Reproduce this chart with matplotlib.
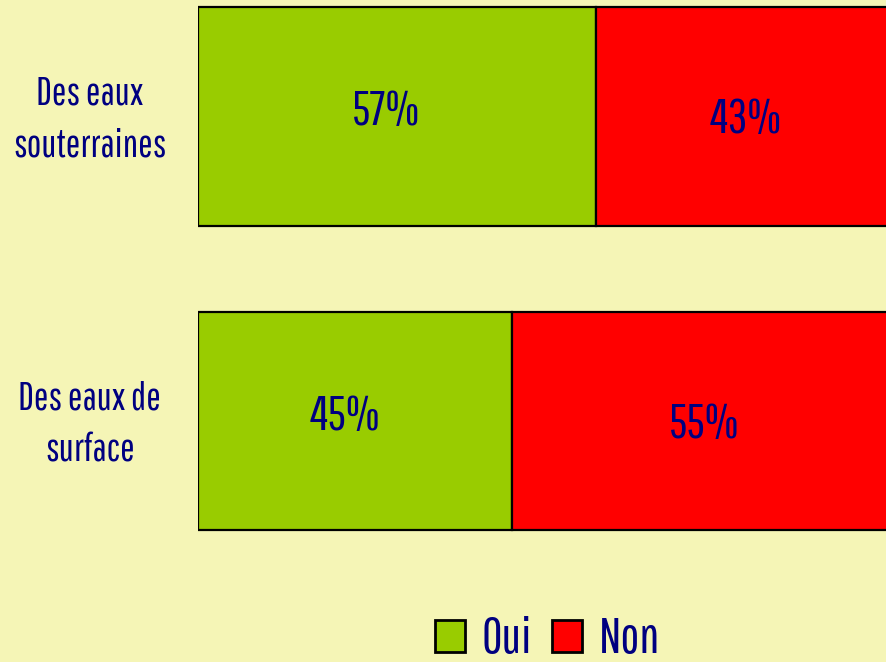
import matplotlib.pyplot as plt
from matplotlib.patches import Patch
from matplotlib import font_manager

# data
categories = ['Des eaux de\nsurface', 'Des eaux\nsouterraines']
oui = [45, 57]
non = [55, 43]

names = set(f.name for f in font_manager.fontManager.ttflist)
fam = 'DejaVu Sans'
for cand in ['Pathway Gothic One', 'Saira Condensed', 'Antonio', 'Roboto Condensed',
             'Oswald', 'Liberation Sans Narrow']:
    if cand in names:
        fam = cand
        break
plt.rcParams['font.family'] = [fam, 'DejaVu Sans']

bg = '#F5F5B6'
green = '#99CC00'
red = '#FF0000'
navy = '#000080'

fig = plt.figure(figsize=(8.86, 6.62), dpi=100, facecolor=bg)
# bars run past the right edge, like the original
ax = fig.add_axes([198/886, 0, 698/886, 1])
ax.set_facecolor(bg)

y = list(range(len(categories)))
h = 0.716
ax.barh(y, oui, height=h, color=green, edgecolor='black', linewidth=1.6)
ax.barh(y, non, left=oui, height=h, color=red, edgecolor='black', linewidth=1.6)

for i in y:
    ax.text(oui[i] / 2 - 1.5, i + 0.015, '%d%%' % oui[i], ha='center', va='center',
            color=navy, fontsize=35)
    ax.text(oui[i] + non[i] / 2, i - 0.01, '%d%%' % non[i], ha='center', va='center',
            color=navy, fontsize=35)

ax.set_xlim(0, 100)
ax.set_ylim(-0.7915, 1.3826)
ax.axis('off')

for i, lab in enumerate(categories):
    ax.text(-15.5, i - 0.01, lab, ha='center', va='center', color=navy, fontsize=28,
            linespacing=1.55, clip_on=False)

handles = [Patch(facecolor=green, edgecolor='black', linewidth=2, label='Oui'),
           Patch(facecolor=red, edgecolor='black', linewidth=2, label='Non')]
fig.legend(handles=handles, loc='center', bbox_to_anchor=(0.618, 0.034), ncol=2,
           frameon=False, fontsize=36, labelcolor=navy, handlelength=0.6,
           handleheight=0.6, handletextpad=0.34, columnspacing=0.4,
           borderpad=0, borderaxespad=0)

fig.savefig('out.png', dpi=100, facecolor=bg)
